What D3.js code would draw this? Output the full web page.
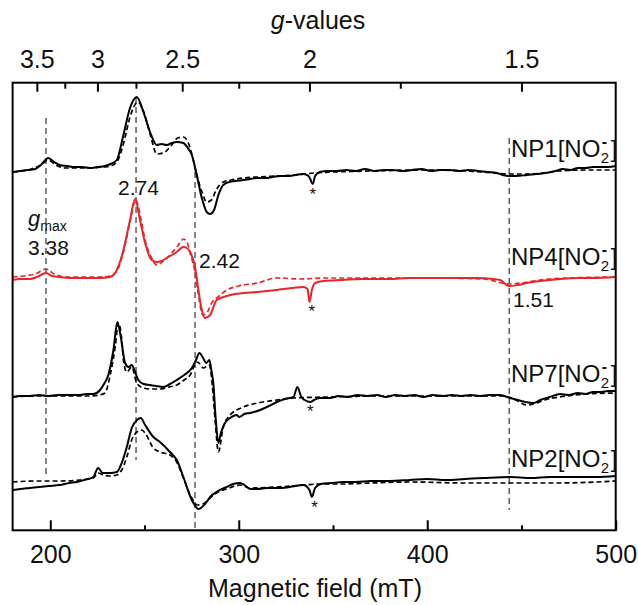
<!DOCTYPE html>
<html>
<head>
<meta charset="utf-8">
<script src="https://cdn.jsdelivr.net/npm/d3@7"></script>
<style>
  html, body { margin: 0; padding: 0; background: #fff; }
  svg { display: block; font-family: "Liberation Sans", Arial, sans-serif; }
</style>
</head>
<body>
<svg id="chart" width="638" height="605"></svg>
<script>
// ---------- data ----------
const seriesNames = ["NP1", "NP4", "NP7", "NP2"];
const seriesOffsets = [358, 250, 134, 48];          // vertical stacking offsets (arb. units)
const seriesColors = ["#000000", "#e8262a", "#000000", "#000000"];

// [field (mT), intensity (arb. units)] – experimental (solid)
const np1Exp = [[180,0],[184,1],[188,2],[192,3],[195,7],[198.9,14],[202,10],[205,7],[209,6],[213,5],[217,5],[221,4],[225,5],[229,6],[232,8],[235.3,12],[238.8,37],[242.3,64],[245.9,75],[249.4,60],[252.9,40],[256.5,27],[259,28],[261.8,27],[264.5,29],[267.1,30],[270.6,29],[273,24],[275.1,17],[277.7,-3],[280.4,-26],[283,-40],[284.8,-42],[286.9,-38],[289.2,-23],[291.8,-13],[295,-10],[298,-9],[302.5,-8],[306,-7],[310,-6],[314,-6],[318,-5],[322,-4],[326,-4],[330,-3],[334.3,-2],[337,-4],[337.9,-7],[339.3,-12],[340.5,-4],[343,0],[347,1],[352,1],[357,2],[362,1],[367,3],[372,1],[377,2],[382,2],[387,1],[392,2],[397,3],[402,1],[407,2],[412,2],[417,1],[422,2],[427,1],[432,0],[437,-1],[440,-3],[443.4,-4],[447,-4],[452.9,-3],[458,-2],[463,-1],[468,1],[472,3],[476,2],[480,4],[484,4],[488,5],[492,5],[496,5],[500,6]];
const np4Exp = [[180,0],[184,1],[189,1],[193,3],[197.7,7],[201,4],[205,3],[210,2],[215.8,2],[221,2],[226.4,2],[231.7,3],[235.3,10],[238.8,30],[242.3,60],[245,81],[247.6,60],[250.3,37],[253.8,20],[256.5,18],[259,19],[261.8,22],[264.5,25],[267.1,28],[270.6,33],[272.5,32],[274.2,28],[276.8,13],[278.6,-10],[280.4,-30],[282.1,-38],[284.8,-35],[288.3,-20],[293.6,-16],[298,-14],[302.5,-13],[310,-12],[320.2,-10],[328,-8],[334.3,-7],[336.5,-9],[337.5,-22],[338.8,-10],[340.5,-3],[345,-1],[355,0],[365,1],[380,1],[390.9,2],[410,2],[426.3,2],[435,1],[438.7,0],[443.4,-6],[448,-5],[452.9,-3],[460,-1],[470.6,1],[480,2],[488,2],[500,3]];
const np7Exp = [[180,-1],[184,0],[189,0],[194,1],[199,0],[204,1],[209,1],[215.8,1],[219,2],[222.8,2],[226.4,6],[228.5,12],[230.8,21],[233.5,46],[235.6,74],[237.4,59],[239.7,33],[241.5,29],[243.2,31],[245,24],[246.7,16],[249.5,12],[252.9,11],[256,10],[260,9],[263.5,12],[267.1,16],[271,21],[275.1,28],[277.3,36],[279.1,43],[281.1,38],[282.7,33],[284.4,36],[285.6,24],[286.5,13],[287.7,-21],[289.2,-47],[290.5,-37],[292.7,-27],[295.4,-22],[298.9,-19],[300.2,-21],[303,-18],[306,-17],[311.3,-14],[316,-10],[320.2,-6],[324.5,-3],[329,-1],[331.1,9],[333.2,-1],[335,-4],[337.9,-6],[340,-4],[343,-2],[348.5,-2],[353,0],[358,-1],[363,1],[368,0],[373.3,1],[378,-1],[383,1],[388,0],[393,1],[398,-1],[403,1],[408.6,0],[413,1],[418,0],[423,1],[428,0],[433,1],[438.7,1],[441,0],[443.9,-2],[448,-4],[452,-6],[456.4,-7],[460,-4],[465,-1],[470.6,2],[475,1],[480,3],[484,2],[488,4],[492,4],[496,5],[500,5]];
const np2Exp = [[180,-8],[184,-7],[189,-6],[194,-5],[199,-4],[205,-3],[210,-1],[214,0],[218,2],[222.8,5],[225.4,14],[227.8,9],[231.7,9],[235.3,10],[237.9,19],[240.6,35],[243.2,54],[246,62],[248,64],[250.3,57],[254.7,45],[258.2,40],[263.5,30],[267.1,22],[270.6,5],[275.1,-18],[278.6,-27],[282.1,-22],[284.8,-15],[289,-9],[293.6,-5],[297,-2],[300.7,-1],[303,-3],[306,-7],[310,-7],[315,-6],[320.2,-6],[327,-5],[334.3,-3],[337.5,-8],[338.8,-15],[340.5,-6],[343.5,-2],[349,-1],[355.5,0],[362,0],[370,1],[380,1],[390.9,2],[400,3],[410,2],[420,3],[430,4],[443.9,5],[455,4],[465,5],[479.4,5],[490,5],[500,6]];

// simulations (dashed)
const np1Sim = [[180,0],[185,1],[190,3],[195,7],[198.9,12],[203,7],[208,4],[215,4],[222,4],[228,5],[232,6],[235.3,10],[238.8,28],[242.3,55],[246.5,70],[250,58],[253,38],[256.5,18],[260,19],[264,26],[267.5,34],[270.6,35],[273,30],[275.5,15],[278,-5],[280.5,-20],[283,-30],[285.5,-28],[288,-18],[291.8,-10],[296,-8],[302.5,-6],[310,-5],[320,-4],[330,-3],[340,-1],[350,0],[370,1],[400,2],[430,0],[443.4,-2],[455,-2],[470,1],[485,2],[500,2]];
const np4Sim = [[180,3],[186,4],[192,6],[197.7,11],[202,6],[208,3],[215.8,3],[226.4,3],[231.7,4],[235.3,9],[238.8,28],[242.3,58],[245.3,80],[248,62],[250.3,40],[253.8,22],[256.5,15],[260,19],[264.5,27],[268,35],[270.6,41],[272.5,38],[274.5,25],[276.8,8],[278.6,-15],[280.9,-35],[283,-33],[286,-22],[289,-17],[293.6,-10],[300,-6],[310,-3],[320.2,2],[332.5,1],[345,2],[370,2],[400,2],[430,1],[443.4,-4],[450,-3],[460,0],[475,2],[500,3]];
const np7Sim = [[180,-1],[190,0],[200,0],[210,0],[220,0],[226,1],[229,3],[232,23],[234.5,50],[236.1,73],[238,55],[238.8,36],[240.6,24],[243.2,29],[245.9,13],[249.4,8],[253,7],[258.2,7],[263,9],[267.1,11],[271,16],[274.2,21],[277.7,34],[279.5,32],[281.2,28],[284.4,31],[286,10],[287.5,-25],[289.2,-56],[291.8,-31],[295.4,-19],[302.5,-11],[310,-7],[320.2,-4],[329,-2],[348,-1],[373,0],[440,0],[446,-3],[452.9,-9],[458,-7],[464,-3],[470,-1],[485,2],[500,3]];
const np2Sim = [[180,0],[192,1],[205,1],[215.8,2],[222.8,4],[225.4,9],[228,7],[231.7,6],[235.3,7],[237.9,12],[240.6,25],[243.2,42],[246,50],[248.5,52],[250.3,49],[254.7,34],[258.2,30],[263.5,27],[267.1,20],[270.6,4],[275.1,-16],[278,-23],[281,-22],[284.8,-16],[289,-10],[293.6,-7],[300.7,-3],[306,-6],[320,-5],[335,-3],[343,-2],[355,-2],[370,-1],[390.9,0],[420,-1],[443.9,-1],[470,-1],[500,1]];

const expData = [np1Exp, np4Exp, np7Exp, np2Exp];
const simData = [np1Sim, np4Sim, np7Sim, np2Sim];

const fieldMajorTicks = [200, 300, 400, 500];
const fieldMinorTicks = [250, 350, 450];
const gMajorTicks = [3.5, 3, 2.5, 2, 1.5];
const gMinorTicks = [3.25, 2.75, 2.25, 1.75];
const gFieldProduct = 675;   // g * B (mT) at the spectrometer frequency

const markerFields = [197.7, 245.5, 276.8, 443.5];   // dashed g-value markers
const markerLabels = ["3.38", "2.74", "2.42", "1.51"];
const artifactFields = [339.3, 338.8, 337.9, 340.2]; // "*" positions

// ---------- drawing ----------
const svg = d3.select("#chart");
const FONT = "'Liberation Sans', Arial, sans-serif";
const L = 12.6, R = 615.7, T = 82.7, B = 530.3;

const x = d3.scaleLinear().domain([180, 500]).range([L, R]);
const y = d3.scaleLinear().domain([0, 448]).range([530, 82]);

// vertical marker lines
const markerExtents = [[118, 478], [97, 460], [172, 530], [138, 510]];
svg.append("g").selectAll("line").data(markerFields).join("line")
  .attr("x1", d => x(d)).attr("x2", d => x(d))
  .attr("y1", (d, i) => markerExtents[i][0]).attr("y2", (d, i) => markerExtents[i][1])
  .attr("stroke", "#444").attr("stroke-width", 1.3).attr("stroke-dasharray", "6,4");

// spectra
const line = d3.line().x(d => x(d[0])).y(d => d[1]).curve(d3.curveMonotoneX);
seriesNames.forEach((name, i) => {
  const off = seriesOffsets[i];
  const sim = simData[i].map(d => [d[0], y(off + d[1])]);
  const exp = expData[i].map(d => [d[0], y(off + d[1])]);
  svg.append("path").attr("d", line(sim)).attr("fill", "none")
    .attr("stroke", seriesColors[i]).attr("stroke-width", 1.7).attr("stroke-dasharray", "5,3");
  svg.append("path").attr("d", line(exp)).attr("fill", "none")
    .attr("stroke", seriesColors[i]).attr("stroke-width", 2).attr("stroke-linejoin", "round");
});

// frame
svg.append("rect").attr("x", L).attr("y", T).attr("width", R - L).attr("height", B - T)
  .attr("fill", "none").attr("stroke", "#000").attr("stroke-width", 2);

// bottom axis
const bMaj = svg.append("g").attr("transform", `translate(0,${B})`)
  .call(d3.axisBottom(x).tickValues(fieldMajorTicks).tickSize(-10).tickPadding(15).tickFormat(d3.format("d")));
const bMin = svg.append("g").attr("transform", `translate(0,${B})`)
  .call(d3.axisBottom(x).tickValues(fieldMinorTicks).tickSize(-5).tickFormat(""));

// top axis (g-values)
const tMaj = svg.append("g").attr("transform", `translate(0,${T})`)
  .call(d3.axisTop(x).tickValues(gMajorTicks.map(g => gFieldProduct / g)).tickSize(-9).tickPadding(15)
    .tickFormat(b => String(+(gFieldProduct / b).toFixed(2))));
const tMin = svg.append("g").attr("transform", `translate(0,${T})`)
  .call(d3.axisTop(x).tickValues(gMinorTicks.map(g => gFieldProduct / g)).tickSize(-6).tickFormat(""));

[bMaj, bMin, tMaj, tMin].forEach(g => {
  g.select(".domain").remove();
  g.selectAll(".tick line").attr("stroke", "#000").attr("stroke-width", 2);
  g.selectAll(".tick text").attr("font-size", 25).attr("font-family", FONT).attr("fill", "#111");
});

// axis titles
svg.append("text").attr("x", 315).attr("y", 597).attr("text-anchor", "middle")
  .attr("font-size", 25).attr("font-family", FONT).attr("fill", "#111").text("Magnetic field (mT)");
const gt = svg.append("text").attr("x", 318).attr("y", 29).attr("text-anchor", "middle")
  .attr("font-size", 25).attr("font-family", FONT).attr("fill", "#111");
gt.append("tspan").attr("font-style", "italic").text("g");
gt.append("tspan").text("-values");

// series labels: NPn[NO2^-]
const labelBaselines = [157, 265, 382, 467];
seriesNames.forEach((name, i) => {
  const by = labelBaselines[i];
  const g = svg.append("g").attr("font-family", FONT).attr("fill", "#111");
  const main = g.append("text").attr("x", 511).attr("y", by).attr("font-size", 24).text(name + "[NO");
  const w = main.node().getComputedTextLength();
  const sx = 511 + w + 0.5;
  g.append("text").attr("x", sx).attr("y", by + 6).attr("font-size", 15).text("2");
  g.append("text").attr("x", sx + 1).attr("y", by - 10).attr("font-size", 16)
    .attr("font-weight", "bold").text("-");
  g.append("text").attr("x", sx + 10).attr("y", by).attr("font-size", 24).text("]");
});

// g-value annotations
const annFont = 21;
const annPos = [[28, 255], [118, 195], [199, 268], [513, 307]];
markerLabels.forEach((lab, i) => {
  svg.append("text").attr("x", annPos[i][0]).attr("y", annPos[i][1])
    .attr("font-size", annFont).attr("font-family", FONT).attr("fill", "#111").text(lab);
});
const gm = svg.append("text").attr("x", 28).attr("y", 226)
  .attr("font-size", 22).attr("font-family", FONT).attr("fill", "#111");
gm.append("tspan").attr("font-style", "italic").text("g");
gm.append("tspan").attr("font-size", 14).attr("dy", 5).text("max");

// asterisks (cavity signal)
const astY = [200, 317, 417, 513];
artifactFields.forEach((f, i) => {
  svg.append("text").attr("x", x(f)).attr("y", astY[i]).attr("text-anchor", "middle")
    .attr("font-size", 17).attr("font-family", FONT).attr("fill", "#111").text("*");
});
</script>
</body>
</html>
